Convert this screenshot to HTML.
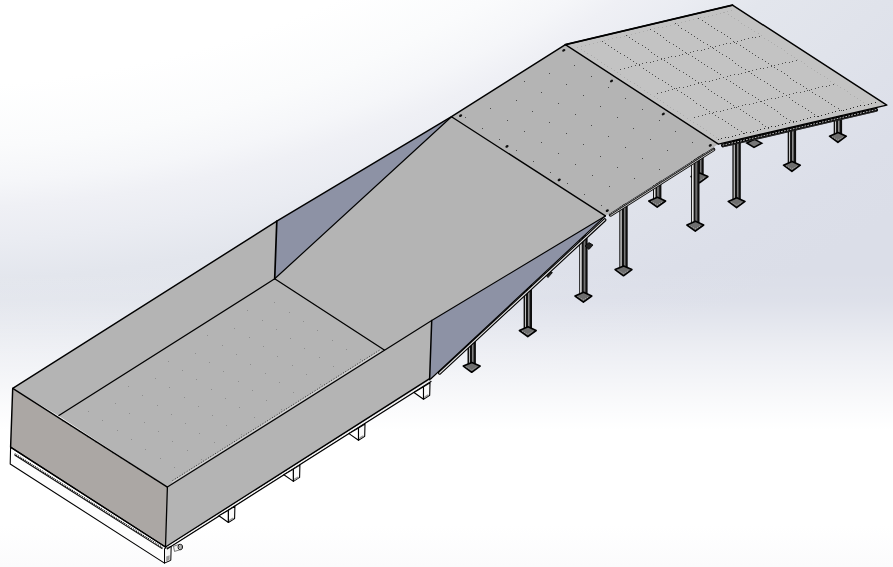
<!DOCTYPE html><html><head><meta charset="utf-8"><style>html,body{margin:0;padding:0;width:893px;height:567px;overflow:hidden;background:#fff}svg{display:block}</style></head><body><svg width="893" height="567" viewBox="0 0 893 567"><defs><radialGradient id="bgr" cx="-100" cy="-400" r="1380" gradientUnits="userSpaceOnUse" gradientTransform="translate(-100,-400) scale(1,0.6408) translate(100,400)"><stop offset="0.552" stop-color="#ffffff"/><stop offset="0.621" stop-color="#fafbfc"/><stop offset="0.662" stop-color="#f5f6f9"/><stop offset="0.69" stop-color="#eff0f5"/><stop offset="0.728" stop-color="#eaecf2"/><stop offset="0.772" stop-color="#e3e6ed"/><stop offset="0.845" stop-color="#e0e3eb"/><stop offset="0.941" stop-color="#dcdfe9"/><stop offset="1.0" stop-color="#dbdee8"/></radialGradient><linearGradient id="bgb" x1="0" y1="270" x2="0" y2="430" gradientUnits="userSpaceOnUse"><stop offset="0.000" stop-color="#fff" stop-opacity="0"/><stop offset="0.188" stop-color="#fff" stop-opacity="0.08"/><stop offset="0.531" stop-color="#fff" stop-opacity="0.53"/><stop offset="0.844" stop-color="#fff" stop-opacity="0.86"/><stop offset="1.000" stop-color="#fff" stop-opacity="1.0"/></linearGradient><linearGradient id="legg" x1="0" y1="0" x2="1" y2="0"><stop offset="0" stop-color="#0c0c0c"/><stop offset="0.12" stop-color="#111"/><stop offset="0.16" stop-color="#e8e8e8"/><stop offset="0.28" stop-color="#9a9a9a"/><stop offset="0.34" stop-color="#111"/><stop offset="0.5" stop-color="#141414"/><stop offset="0.55" stop-color="#959595"/><stop offset="0.73" stop-color="#4a4a4a"/><stop offset="0.8" stop-color="#111"/><stop offset="1" stop-color="#0c0c0c"/></linearGradient></defs><rect width="893" height="567" fill="url(#bgr)"/><rect width="893" height="567" fill="url(#bgb)"/><defs><linearGradient id="bgl" x1="0" y1="525" x2="0" y2="567" gradientUnits="userSpaceOnUse"><stop offset="0" stop-color="#fbfbfc" stop-opacity="0"/><stop offset="1" stop-color="#fbfbfc" stop-opacity="1"/></linearGradient></defs><rect y="525" width="893" height="42" fill="url(#bgl)"/><rect x="467.5" y="335.0" width="8.4" height="31.3" fill="url(#legg)"/><polygon points="463.3,366.1 471.9,362.4 480.1,366.1 471.7,372.3" fill="#6e6e6e" stroke="#000" stroke-width="1.6" stroke-linejoin="round"/><polyline points="465.9,366.7 471.7,369.9 477.5,366.7" fill="none" stroke="#c8c8c8" stroke-width="0.8" stroke-dasharray="0.8 1.4"/><rect x="523.6" y="283.0" width="8.4" height="47.7" fill="url(#legg)"/><polygon points="519.4,330.5 528.0,326.8 536.2,330.5 527.8,336.7" fill="#6e6e6e" stroke="#000" stroke-width="1.6" stroke-linejoin="round"/><polyline points="522.0,331.1 527.8,334.3 533.6,331.1" fill="none" stroke="#c8c8c8" stroke-width="0.8" stroke-dasharray="0.8 1.4"/><rect x="579.2" y="235.0" width="8.4" height="61.2" fill="url(#legg)"/><polygon points="575.0,296.0 583.6,292.3 591.8,296.0 583.4,302.2" fill="#6e6e6e" stroke="#000" stroke-width="1.6" stroke-linejoin="round"/><polyline points="577.6,296.6 583.4,299.8 589.2,296.6" fill="none" stroke="#c8c8c8" stroke-width="0.8" stroke-dasharray="0.8 1.4"/><rect x="619.3" y="203.0" width="8.4" height="66.8" fill="url(#legg)"/><polygon points="615.1,269.6 623.7,265.9 631.9,269.6 623.5,275.8" fill="#6e6e6e" stroke="#000" stroke-width="1.6" stroke-linejoin="round"/><polyline points="617.7,270.2 623.5,273.4 629.3,270.2" fill="none" stroke="#c8c8c8" stroke-width="0.8" stroke-dasharray="0.8 1.4"/><rect x="653.0" y="180.0" width="8.4" height="21.2" fill="url(#legg)"/><polygon points="648.8,201.0 657.4,197.3 665.6,201.0 657.2,207.2" fill="#6e6e6e" stroke="#000" stroke-width="1.6" stroke-linejoin="round"/><polyline points="651.4,201.6 657.2,204.8 663.0,201.6" fill="none" stroke="#c8c8c8" stroke-width="0.8" stroke-dasharray="0.8 1.4"/><rect x="695.3" y="150.0" width="8.4" height="26.8" fill="url(#legg)"/><polygon points="691.1,176.6 699.7,172.9 707.9,176.6 699.5,182.8" fill="#6e6e6e" stroke="#000" stroke-width="1.6" stroke-linejoin="round"/><polyline points="693.7,177.2 699.5,180.4 705.3,177.2" fill="none" stroke="#c8c8c8" stroke-width="0.8" stroke-dasharray="0.8 1.4"/><rect x="691.1" y="150.0" width="8.4" height="75.2" fill="url(#legg)"/><polygon points="686.9,225.0 695.5,221.3 703.7,225.0 695.3,231.2" fill="#6e6e6e" stroke="#000" stroke-width="1.6" stroke-linejoin="round"/><polyline points="689.5,225.6 695.3,228.8 701.1,225.6" fill="none" stroke="#c8c8c8" stroke-width="0.8" stroke-dasharray="0.8 1.4"/><rect x="732.4" y="138.0" width="8.4" height="63.6" fill="url(#legg)"/><polygon points="728.2,201.4 736.8,197.7 745.0,201.4 736.6,207.6" fill="#6e6e6e" stroke="#000" stroke-width="1.6" stroke-linejoin="round"/><polyline points="730.8,202.0 736.6,205.2 742.4,202.0" fill="none" stroke="#c8c8c8" stroke-width="0.8" stroke-dasharray="0.8 1.4"/><rect x="787.7" y="125.0" width="8.4" height="40.4" fill="url(#legg)"/><polygon points="783.5,165.2 792.1,161.5 800.3,165.2 791.9,171.4" fill="#6e6e6e" stroke="#000" stroke-width="1.6" stroke-linejoin="round"/><polyline points="786.1,165.8 791.9,169.0 797.7,165.8" fill="none" stroke="#c8c8c8" stroke-width="0.8" stroke-dasharray="0.8 1.4"/><rect x="833.7" y="112.0" width="8.4" height="24.4" fill="url(#legg)"/><polygon points="829.5,136.2 838.1,132.5 846.3,136.2 837.9,142.4" fill="#6e6e6e" stroke="#000" stroke-width="1.6" stroke-linejoin="round"/><polyline points="832.1,136.8 837.9,140.0 843.7,136.8" fill="none" stroke="#c8c8c8" stroke-width="0.8" stroke-dasharray="0.8 1.4"/><polygon points="746.8,143.0 754.5,139.4 761.8,143.2 754.0,147.5" fill="#777" stroke="#000" stroke-width="1.5"/><polygon points="544.7,273.5 549.0,270.8 552.4,272.6 548.0,277.6" fill="#222" stroke="#000" stroke-width="0.8"/><polygon points="585.0,246.0 589.0,242.6 593.0,245.0 589.0,249.4" fill="#222" stroke="#000" stroke-width="0.8"/><polygon points="12.7,388.4 167.4,487.1 165.5,547.0 10.6,447.2" fill="#aba7a4"/><polygon points="10.6,447.2 165.5,547.0 164.5,563.1 10.2,464.0" fill="#fdfdfd" stroke="#000" stroke-width="1.1" stroke-linejoin="round"/><line x1="14.6" y1="455.0" x2="162.5" y2="548.9" stroke="#111" stroke-width="1.1"/><line x1="14.6" y1="453.8" x2="162.5" y2="547.7" stroke="#111" stroke-width="1.5" stroke-dasharray="1 1"/><line x1="10.6" y1="447.2" x2="165.5" y2="547.0" stroke="#000" stroke-width="1.4"/><polygon points="164.5,548.5 171.2,546.3 170.8,560.3 164.5,563.1" fill="#f4f4f4" stroke="#000" stroke-width="1"/><polygon points="166.2,556.5 169.6,555.2 169.6,559.6 166.2,561.4" fill="#9a9a9a"/><polygon points="173.5,546.3 179.5,544.2 180.8,549.6 174.5,551.4" fill="#f0f0f0" stroke="#222" stroke-width="0.6"/><ellipse cx="180.3" cy="547" rx="2.3" ry="2.7" fill="#e8e8e8" stroke="#000" stroke-width="0.9"/><ellipse cx="180.5" cy="547" rx="0.9" ry="1.3" fill="none" stroke="#333" stroke-width="0.5"/><polygon points="167.4,487.1 431.7,320.6 429.6,380.0 165.5,547.0" fill="#b4b4b4"/><polygon points="12.7,388.4 276.8,221.2 274.7,278.8 58.5,415.8" fill="#b4b4b4"/><polygon points="58.5,415.8 274.7,278.8 384.7,350.2 167.4,487.1" fill="#b4b4b4"/><polygon points="274.7,278.8 451.5,116.7 605.4,215.9 431.7,320.6 384.7,350.2" fill="#b4b4b4"/><polygon points="276.8,221.2 451.5,116.7 274.7,278.8" fill="#8d92a5"/><polygon points="431.7,320.6 605.4,215.9 429.6,380.0" fill="#8d92a5"/><polygon points="451.5,116.7 565.4,44.6 718.4,144.1 605.4,215.9" fill="#b4b4b4"/><polygon points="565.4,44.6 732.5,5.1 886.8,105.1 718.4,144.1" fill="#c3c3c3"/><rect x="524" y="81" width="1" height="1" fill="#4a4a4a"/><rect x="549" y="73" width="1" height="1" fill="#4a4a4a"/><rect x="574" y="65" width="1" height="1" fill="#4a4a4a"/><rect x="465" y="117" width="1" height="1" fill="#4a4a4a"/><rect x="490" y="108" width="1" height="1" fill="#4a4a4a"/><rect x="516" y="100" width="1" height="1" fill="#4a4a4a"/><rect x="541" y="92" width="1" height="1" fill="#4a4a4a"/><rect x="566" y="84" width="1" height="1" fill="#4a4a4a"/><rect x="591" y="76" width="1" height="1" fill="#4a4a4a"/><rect x="482" y="128" width="1" height="1" fill="#4a4a4a"/><rect x="507" y="120" width="1" height="1" fill="#4a4a4a"/><rect x="532" y="111" width="1" height="1" fill="#4a4a4a"/><rect x="558" y="103" width="1" height="1" fill="#4a4a4a"/><rect x="583" y="95" width="1" height="1" fill="#4a4a4a"/><rect x="608" y="87" width="1" height="1" fill="#4a4a4a"/><rect x="499" y="139" width="1" height="1" fill="#4a4a4a"/><rect x="524" y="131" width="1" height="1" fill="#4a4a4a"/><rect x="549" y="122" width="1" height="1" fill="#4a4a4a"/><rect x="575" y="114" width="1" height="1" fill="#4a4a4a"/><rect x="600" y="106" width="1" height="1" fill="#4a4a4a"/><rect x="625" y="98" width="1" height="1" fill="#4a4a4a"/><rect x="516" y="150" width="1" height="1" fill="#4a4a4a"/><rect x="541" y="142" width="1" height="1" fill="#4a4a4a"/><rect x="566" y="133" width="1" height="1" fill="#4a4a4a"/><rect x="591" y="125" width="1" height="1" fill="#4a4a4a"/><rect x="617" y="117" width="1" height="1" fill="#4a4a4a"/><rect x="642" y="109" width="1" height="1" fill="#4a4a4a"/><rect x="533" y="161" width="1" height="1" fill="#4a4a4a"/><rect x="558" y="153" width="1" height="1" fill="#4a4a4a"/><rect x="583" y="144" width="1" height="1" fill="#4a4a4a"/><rect x="608" y="136" width="1" height="1" fill="#4a4a4a"/><rect x="633" y="128" width="1" height="1" fill="#4a4a4a"/><rect x="659" y="120" width="1" height="1" fill="#4a4a4a"/><rect x="550" y="172" width="1" height="1" fill="#4a4a4a"/><rect x="575" y="164" width="1" height="1" fill="#4a4a4a"/><rect x="600" y="156" width="1" height="1" fill="#4a4a4a"/><rect x="625" y="147" width="1" height="1" fill="#4a4a4a"/><rect x="650" y="139" width="1" height="1" fill="#4a4a4a"/><rect x="675" y="131" width="1" height="1" fill="#4a4a4a"/><rect x="567" y="183" width="1" height="1" fill="#4a4a4a"/><rect x="592" y="175" width="1" height="1" fill="#4a4a4a"/><rect x="617" y="167" width="1" height="1" fill="#4a4a4a"/><rect x="642" y="158" width="1" height="1" fill="#4a4a4a"/><rect x="667" y="150" width="1" height="1" fill="#4a4a4a"/><rect x="692" y="142" width="1" height="1" fill="#4a4a4a"/><rect x="584" y="194" width="1" height="1" fill="#4a4a4a"/><rect x="609" y="186" width="1" height="1" fill="#4a4a4a"/><rect x="634" y="178" width="1" height="1" fill="#4a4a4a"/><rect x="659" y="169" width="1" height="1" fill="#4a4a4a"/><rect x="601" y="205" width="1" height="1" fill="#4a4a4a"/><rect x="88" y="411" width="1" height="1" fill="#8e8e8e"/><rect x="102" y="420" width="1" height="1" fill="#8e8e8e"/><rect x="117" y="430" width="1" height="1" fill="#8e8e8e"/><rect x="131" y="439" width="1" height="1" fill="#8e8e8e"/><rect x="145" y="449" width="1" height="1" fill="#8e8e8e"/><rect x="160" y="458" width="1" height="1" fill="#8e8e8e"/><rect x="174" y="467" width="1" height="1" fill="#8e8e8e"/><rect x="115" y="403" width="1" height="1" fill="#8e8e8e"/><rect x="129" y="413" width="1" height="1" fill="#8e8e8e"/><rect x="144" y="422" width="1" height="1" fill="#8e8e8e"/><rect x="158" y="431" width="1" height="1" fill="#8e8e8e"/><rect x="172" y="441" width="1" height="1" fill="#8e8e8e"/><rect x="187" y="450" width="1" height="1" fill="#8e8e8e"/><rect x="201" y="459" width="1" height="1" fill="#8e8e8e"/><rect x="128" y="386" width="1" height="1" fill="#8e8e8e"/><rect x="142" y="395" width="1" height="1" fill="#8e8e8e"/><rect x="157" y="405" width="1" height="1" fill="#8e8e8e"/><rect x="171" y="414" width="1" height="1" fill="#8e8e8e"/><rect x="185" y="423" width="1" height="1" fill="#8e8e8e"/><rect x="199" y="433" width="1" height="1" fill="#8e8e8e"/><rect x="214" y="442" width="1" height="1" fill="#8e8e8e"/><rect x="155" y="378" width="1" height="1" fill="#8e8e8e"/><rect x="169" y="387" width="1" height="1" fill="#8e8e8e"/><rect x="184" y="397" width="1" height="1" fill="#8e8e8e"/><rect x="198" y="406" width="1" height="1" fill="#8e8e8e"/><rect x="212" y="415" width="1" height="1" fill="#8e8e8e"/><rect x="226" y="425" width="1" height="1" fill="#8e8e8e"/><rect x="241" y="434" width="1" height="1" fill="#8e8e8e"/><rect x="168" y="361" width="1" height="1" fill="#8e8e8e"/><rect x="182" y="370" width="1" height="1" fill="#8e8e8e"/><rect x="196" y="379" width="1" height="1" fill="#8e8e8e"/><rect x="211" y="389" width="1" height="1" fill="#8e8e8e"/><rect x="225" y="398" width="1" height="1" fill="#8e8e8e"/><rect x="239" y="407" width="1" height="1" fill="#8e8e8e"/><rect x="254" y="417" width="1" height="1" fill="#8e8e8e"/><rect x="195" y="353" width="1" height="1" fill="#8e8e8e"/><rect x="209" y="362" width="1" height="1" fill="#8e8e8e"/><rect x="223" y="371" width="1" height="1" fill="#8e8e8e"/><rect x="238" y="381" width="1" height="1" fill="#8e8e8e"/><rect x="252" y="390" width="1" height="1" fill="#8e8e8e"/><rect x="266" y="400" width="1" height="1" fill="#8e8e8e"/><rect x="281" y="409" width="1" height="1" fill="#8e8e8e"/><rect x="207" y="335" width="1" height="1" fill="#8e8e8e"/><rect x="222" y="345" width="1" height="1" fill="#8e8e8e"/><rect x="236" y="354" width="1" height="1" fill="#8e8e8e"/><rect x="250" y="364" width="1" height="1" fill="#8e8e8e"/><rect x="265" y="373" width="1" height="1" fill="#8e8e8e"/><rect x="279" y="382" width="1" height="1" fill="#8e8e8e"/><rect x="293" y="392" width="1" height="1" fill="#8e8e8e"/><rect x="234" y="328" width="1" height="1" fill="#8e8e8e"/><rect x="249" y="337" width="1" height="1" fill="#8e8e8e"/><rect x="263" y="346" width="1" height="1" fill="#8e8e8e"/><rect x="277" y="356" width="1" height="1" fill="#8e8e8e"/><rect x="292" y="365" width="1" height="1" fill="#8e8e8e"/><rect x="306" y="374" width="1" height="1" fill="#8e8e8e"/><rect x="320" y="384" width="1" height="1" fill="#8e8e8e"/><rect x="247" y="310" width="1" height="1" fill="#8e8e8e"/><rect x="262" y="320" width="1" height="1" fill="#8e8e8e"/><rect x="276" y="329" width="1" height="1" fill="#8e8e8e"/><rect x="290" y="338" width="1" height="1" fill="#8e8e8e"/><rect x="304" y="348" width="1" height="1" fill="#8e8e8e"/><rect x="319" y="357" width="1" height="1" fill="#8e8e8e"/><rect x="333" y="366" width="1" height="1" fill="#8e8e8e"/><rect x="274" y="302" width="1" height="1" fill="#8e8e8e"/><rect x="289" y="312" width="1" height="1" fill="#8e8e8e"/><rect x="303" y="321" width="1" height="1" fill="#8e8e8e"/><rect x="317" y="330" width="1" height="1" fill="#8e8e8e"/><rect x="332" y="340" width="1" height="1" fill="#8e8e8e"/><rect x="346" y="349" width="1" height="1" fill="#8e8e8e"/><rect x="360" y="359" width="1" height="1" fill="#8e8e8e"/><line x1="172" y1="482.4" x2="381" y2="350.7" stroke="#dcdcdc" stroke-width="0.9"/><line x1="172.5" y1="480.6" x2="380" y2="349.8" stroke="#2a2a2a" stroke-width="1" stroke-dasharray="0.9 1.9"/><line x1="62" y1="420.5" x2="160" y2="483" stroke="#333" stroke-width="0.9" stroke-dasharray="0.9 9"/><g fill="#4e4e4e"><rect x="602" y="41" width="1" height="1"/><rect x="605" y="43" width="1" height="1"/><rect x="608" y="45" width="1" height="1"/><rect x="611" y="47" width="1" height="1"/><rect x="614" y="49" width="1" height="1"/><rect x="617" y="51" width="1" height="1"/><rect x="620" y="53" width="1" height="1"/><rect x="624" y="55" width="1" height="1"/><rect x="627" y="57" width="1" height="1"/><rect x="630" y="59" width="1" height="1"/><rect x="633" y="61" width="1" height="1"/><rect x="636" y="63" width="1" height="1"/><rect x="639" y="65" width="1" height="1"/><rect x="643" y="68" width="1" height="1"/><rect x="646" y="70" width="1" height="1"/><rect x="649" y="72" width="1" height="1"/><rect x="652" y="74" width="1" height="1"/><rect x="655" y="76" width="1" height="1"/><rect x="658" y="78" width="1" height="1"/><rect x="662" y="80" width="1" height="1"/><rect x="665" y="82" width="1" height="1"/><rect x="668" y="84" width="1" height="1"/><rect x="671" y="86" width="1" height="1"/><rect x="674" y="88" width="1" height="1"/><rect x="677" y="90" width="1" height="1"/><rect x="681" y="92" width="1" height="1"/><rect x="684" y="94" width="1" height="1"/><rect x="687" y="96" width="1" height="1"/><rect x="690" y="98" width="1" height="1"/><rect x="693" y="100" width="1" height="1"/><rect x="696" y="103" width="1" height="1"/><rect x="700" y="105" width="1" height="1"/><rect x="703" y="107" width="1" height="1"/><rect x="706" y="109" width="1" height="1"/><rect x="709" y="111" width="1" height="1"/><rect x="712" y="113" width="1" height="1"/><rect x="715" y="115" width="1" height="1"/><rect x="718" y="117" width="1" height="1"/><rect x="722" y="119" width="1" height="1"/><rect x="725" y="121" width="1" height="1"/><rect x="728" y="123" width="1" height="1"/><rect x="731" y="125" width="1" height="1"/><rect x="734" y="127" width="1" height="1"/><rect x="737" y="129" width="1" height="1"/><rect x="741" y="131" width="1" height="1"/><rect x="744" y="133" width="1" height="1"/><rect x="626" y="35" width="1" height="1"/><rect x="629" y="37" width="1" height="1"/><rect x="632" y="39" width="1" height="1"/><rect x="635" y="41" width="1" height="1"/><rect x="638" y="43" width="1" height="1"/><rect x="642" y="45" width="1" height="1"/><rect x="645" y="47" width="1" height="1"/><rect x="648" y="49" width="1" height="1"/><rect x="651" y="52" width="1" height="1"/><rect x="654" y="54" width="1" height="1"/><rect x="657" y="56" width="1" height="1"/><rect x="661" y="58" width="1" height="1"/><rect x="664" y="60" width="1" height="1"/><rect x="667" y="62" width="1" height="1"/><rect x="670" y="64" width="1" height="1"/><rect x="673" y="66" width="1" height="1"/><rect x="676" y="68" width="1" height="1"/><rect x="679" y="70" width="1" height="1"/><rect x="683" y="72" width="1" height="1"/><rect x="686" y="74" width="1" height="1"/><rect x="689" y="76" width="1" height="1"/><rect x="692" y="78" width="1" height="1"/><rect x="695" y="80" width="1" height="1"/><rect x="698" y="82" width="1" height="1"/><rect x="702" y="84" width="1" height="1"/><rect x="705" y="86" width="1" height="1"/><rect x="708" y="89" width="1" height="1"/><rect x="711" y="91" width="1" height="1"/><rect x="714" y="93" width="1" height="1"/><rect x="717" y="95" width="1" height="1"/><rect x="721" y="97" width="1" height="1"/><rect x="724" y="99" width="1" height="1"/><rect x="727" y="101" width="1" height="1"/><rect x="730" y="103" width="1" height="1"/><rect x="733" y="105" width="1" height="1"/><rect x="736" y="107" width="1" height="1"/><rect x="740" y="109" width="1" height="1"/><rect x="743" y="111" width="1" height="1"/><rect x="746" y="113" width="1" height="1"/><rect x="749" y="115" width="1" height="1"/><rect x="752" y="117" width="1" height="1"/><rect x="755" y="119" width="1" height="1"/><rect x="759" y="121" width="1" height="1"/><rect x="762" y="124" width="1" height="1"/><rect x="765" y="126" width="1" height="1"/><rect x="768" y="128" width="1" height="1"/><rect x="650" y="29" width="1" height="1"/><rect x="654" y="31" width="1" height="1"/><rect x="657" y="33" width="1" height="1"/><rect x="660" y="35" width="1" height="1"/><rect x="663" y="37" width="1" height="1"/><rect x="666" y="40" width="1" height="1"/><rect x="669" y="42" width="1" height="1"/><rect x="673" y="44" width="1" height="1"/><rect x="676" y="46" width="1" height="1"/><rect x="679" y="48" width="1" height="1"/><rect x="682" y="50" width="1" height="1"/><rect x="685" y="52" width="1" height="1"/><rect x="688" y="54" width="1" height="1"/><rect x="692" y="56" width="1" height="1"/><rect x="695" y="58" width="1" height="1"/><rect x="698" y="60" width="1" height="1"/><rect x="701" y="62" width="1" height="1"/><rect x="704" y="64" width="1" height="1"/><rect x="707" y="66" width="1" height="1"/><rect x="711" y="68" width="1" height="1"/><rect x="714" y="70" width="1" height="1"/><rect x="717" y="72" width="1" height="1"/><rect x="720" y="74" width="1" height="1"/><rect x="723" y="77" width="1" height="1"/><rect x="726" y="79" width="1" height="1"/><rect x="730" y="81" width="1" height="1"/><rect x="733" y="83" width="1" height="1"/><rect x="736" y="85" width="1" height="1"/><rect x="739" y="87" width="1" height="1"/><rect x="742" y="89" width="1" height="1"/><rect x="745" y="91" width="1" height="1"/><rect x="748" y="93" width="1" height="1"/><rect x="752" y="95" width="1" height="1"/><rect x="755" y="97" width="1" height="1"/><rect x="758" y="99" width="1" height="1"/><rect x="761" y="101" width="1" height="1"/><rect x="764" y="103" width="1" height="1"/><rect x="767" y="105" width="1" height="1"/><rect x="771" y="107" width="1" height="1"/><rect x="774" y="109" width="1" height="1"/><rect x="777" y="111" width="1" height="1"/><rect x="780" y="114" width="1" height="1"/><rect x="783" y="116" width="1" height="1"/><rect x="786" y="118" width="1" height="1"/><rect x="790" y="120" width="1" height="1"/><rect x="793" y="122" width="1" height="1"/><rect x="675" y="23" width="1" height="1"/><rect x="678" y="25" width="1" height="1"/><rect x="681" y="28" width="1" height="1"/><rect x="685" y="30" width="1" height="1"/><rect x="688" y="32" width="1" height="1"/><rect x="691" y="34" width="1" height="1"/><rect x="694" y="36" width="1" height="1"/><rect x="697" y="38" width="1" height="1"/><rect x="700" y="40" width="1" height="1"/><rect x="703" y="42" width="1" height="1"/><rect x="707" y="44" width="1" height="1"/><rect x="710" y="46" width="1" height="1"/><rect x="713" y="48" width="1" height="1"/><rect x="716" y="50" width="1" height="1"/><rect x="719" y="52" width="1" height="1"/><rect x="722" y="54" width="1" height="1"/><rect x="726" y="56" width="1" height="1"/><rect x="729" y="58" width="1" height="1"/><rect x="732" y="60" width="1" height="1"/><rect x="735" y="63" width="1" height="1"/><rect x="738" y="65" width="1" height="1"/><rect x="741" y="67" width="1" height="1"/><rect x="745" y="69" width="1" height="1"/><rect x="748" y="71" width="1" height="1"/><rect x="751" y="73" width="1" height="1"/><rect x="754" y="75" width="1" height="1"/><rect x="757" y="77" width="1" height="1"/><rect x="760" y="79" width="1" height="1"/><rect x="764" y="81" width="1" height="1"/><rect x="767" y="83" width="1" height="1"/><rect x="770" y="85" width="1" height="1"/><rect x="773" y="87" width="1" height="1"/><rect x="776" y="89" width="1" height="1"/><rect x="779" y="91" width="1" height="1"/><rect x="783" y="93" width="1" height="1"/><rect x="786" y="95" width="1" height="1"/><rect x="789" y="97" width="1" height="1"/><rect x="792" y="100" width="1" height="1"/><rect x="795" y="102" width="1" height="1"/><rect x="798" y="104" width="1" height="1"/><rect x="802" y="106" width="1" height="1"/><rect x="805" y="108" width="1" height="1"/><rect x="808" y="110" width="1" height="1"/><rect x="811" y="112" width="1" height="1"/><rect x="814" y="114" width="1" height="1"/><rect x="817" y="116" width="1" height="1"/><rect x="698" y="18" width="1" height="1"/><rect x="702" y="20" width="1" height="1"/><rect x="705" y="22" width="1" height="1"/><rect x="708" y="24" width="1" height="1"/><rect x="711" y="26" width="1" height="1"/><rect x="714" y="28" width="1" height="1"/><rect x="717" y="30" width="1" height="1"/><rect x="721" y="32" width="1" height="1"/><rect x="724" y="34" width="1" height="1"/><rect x="727" y="36" width="1" height="1"/><rect x="730" y="38" width="1" height="1"/><rect x="733" y="41" width="1" height="1"/><rect x="736" y="43" width="1" height="1"/><rect x="740" y="45" width="1" height="1"/><rect x="743" y="47" width="1" height="1"/><rect x="746" y="49" width="1" height="1"/><rect x="749" y="51" width="1" height="1"/><rect x="752" y="53" width="1" height="1"/><rect x="755" y="55" width="1" height="1"/><rect x="758" y="57" width="1" height="1"/><rect x="762" y="59" width="1" height="1"/><rect x="765" y="61" width="1" height="1"/><rect x="768" y="63" width="1" height="1"/><rect x="771" y="65" width="1" height="1"/><rect x="774" y="67" width="1" height="1"/><rect x="777" y="69" width="1" height="1"/><rect x="781" y="71" width="1" height="1"/><rect x="784" y="73" width="1" height="1"/><rect x="787" y="75" width="1" height="1"/><rect x="790" y="78" width="1" height="1"/><rect x="793" y="80" width="1" height="1"/><rect x="796" y="82" width="1" height="1"/><rect x="800" y="84" width="1" height="1"/><rect x="803" y="86" width="1" height="1"/><rect x="806" y="88" width="1" height="1"/><rect x="809" y="90" width="1" height="1"/><rect x="812" y="92" width="1" height="1"/><rect x="815" y="94" width="1" height="1"/><rect x="819" y="96" width="1" height="1"/><rect x="822" y="98" width="1" height="1"/><rect x="825" y="100" width="1" height="1"/><rect x="828" y="102" width="1" height="1"/><rect x="831" y="104" width="1" height="1"/><rect x="834" y="106" width="1" height="1"/><rect x="838" y="108" width="1" height="1"/><rect x="841" y="110" width="1" height="1"/><rect x="620" y="69" width="1" height="1"/><rect x="624" y="68" width="1" height="1"/><rect x="628" y="67" width="1" height="1"/><rect x="631" y="66" width="1" height="1"/><rect x="635" y="65" width="1" height="1"/><rect x="639" y="64" width="1" height="1"/><rect x="642" y="63" width="1" height="1"/><rect x="646" y="62" width="1" height="1"/><rect x="650" y="62" width="1" height="1"/><rect x="653" y="61" width="1" height="1"/><rect x="657" y="60" width="1" height="1"/><rect x="661" y="59" width="1" height="1"/><rect x="664" y="58" width="1" height="1"/><rect x="668" y="57" width="1" height="1"/><rect x="671" y="56" width="1" height="1"/><rect x="675" y="56" width="1" height="1"/><rect x="679" y="55" width="1" height="1"/><rect x="682" y="54" width="1" height="1"/><rect x="686" y="53" width="1" height="1"/><rect x="690" y="52" width="1" height="1"/><rect x="693" y="51" width="1" height="1"/><rect x="697" y="50" width="1" height="1"/><rect x="701" y="50" width="1" height="1"/><rect x="704" y="49" width="1" height="1"/><rect x="708" y="48" width="1" height="1"/><rect x="712" y="47" width="1" height="1"/><rect x="715" y="46" width="1" height="1"/><rect x="719" y="45" width="1" height="1"/><rect x="723" y="44" width="1" height="1"/><rect x="726" y="43" width="1" height="1"/><rect x="730" y="43" width="1" height="1"/><rect x="734" y="42" width="1" height="1"/><rect x="737" y="41" width="1" height="1"/><rect x="741" y="40" width="1" height="1"/><rect x="744" y="39" width="1" height="1"/><rect x="748" y="38" width="1" height="1"/><rect x="752" y="37" width="1" height="1"/><rect x="755" y="37" width="1" height="1"/><rect x="759" y="36" width="1" height="1"/><rect x="657" y="93" width="1" height="1"/><rect x="661" y="92" width="1" height="1"/><rect x="665" y="91" width="1" height="1"/><rect x="668" y="90" width="1" height="1"/><rect x="672" y="89" width="1" height="1"/><rect x="676" y="88" width="1" height="1"/><rect x="679" y="87" width="1" height="1"/><rect x="683" y="87" width="1" height="1"/><rect x="687" y="86" width="1" height="1"/><rect x="690" y="85" width="1" height="1"/><rect x="694" y="84" width="1" height="1"/><rect x="698" y="83" width="1" height="1"/><rect x="701" y="82" width="1" height="1"/><rect x="705" y="81" width="1" height="1"/><rect x="709" y="81" width="1" height="1"/><rect x="712" y="80" width="1" height="1"/><rect x="716" y="79" width="1" height="1"/><rect x="719" y="78" width="1" height="1"/><rect x="727" y="76" width="1" height="1"/><rect x="730" y="75" width="1" height="1"/><rect x="734" y="74" width="1" height="1"/><rect x="738" y="74" width="1" height="1"/><rect x="741" y="73" width="1" height="1"/><rect x="745" y="72" width="1" height="1"/><rect x="749" y="71" width="1" height="1"/><rect x="752" y="70" width="1" height="1"/><rect x="756" y="69" width="1" height="1"/><rect x="760" y="68" width="1" height="1"/><rect x="763" y="68" width="1" height="1"/><rect x="767" y="67" width="1" height="1"/><rect x="771" y="66" width="1" height="1"/><rect x="774" y="65" width="1" height="1"/><rect x="778" y="64" width="1" height="1"/><rect x="782" y="63" width="1" height="1"/><rect x="785" y="62" width="1" height="1"/><rect x="789" y="62" width="1" height="1"/><rect x="792" y="61" width="1" height="1"/><rect x="796" y="60" width="1" height="1"/><rect x="694" y="117" width="1" height="1"/><rect x="698" y="116" width="1" height="1"/><rect x="702" y="115" width="1" height="1"/><rect x="705" y="114" width="1" height="1"/><rect x="709" y="113" width="1" height="1"/><rect x="713" y="112" width="1" height="1"/><rect x="716" y="111" width="1" height="1"/><rect x="720" y="111" width="1" height="1"/><rect x="723" y="110" width="1" height="1"/><rect x="727" y="109" width="1" height="1"/><rect x="731" y="108" width="1" height="1"/><rect x="734" y="107" width="1" height="1"/><rect x="738" y="106" width="1" height="1"/><rect x="742" y="105" width="1" height="1"/><rect x="745" y="104" width="1" height="1"/><rect x="749" y="104" width="1" height="1"/><rect x="753" y="103" width="1" height="1"/><rect x="756" y="102" width="1" height="1"/><rect x="760" y="101" width="1" height="1"/><rect x="764" y="100" width="1" height="1"/><rect x="767" y="99" width="1" height="1"/><rect x="771" y="98" width="1" height="1"/><rect x="775" y="98" width="1" height="1"/><rect x="778" y="97" width="1" height="1"/><rect x="782" y="96" width="1" height="1"/><rect x="789" y="94" width="1" height="1"/><rect x="793" y="93" width="1" height="1"/><rect x="796" y="92" width="1" height="1"/><rect x="800" y="92" width="1" height="1"/><rect x="804" y="91" width="1" height="1"/><rect x="807" y="90" width="1" height="1"/><rect x="811" y="89" width="1" height="1"/><rect x="815" y="88" width="1" height="1"/><rect x="818" y="87" width="1" height="1"/><rect x="822" y="86" width="1" height="1"/><rect x="826" y="86" width="1" height="1"/><rect x="829" y="85" width="1" height="1"/><rect x="833" y="84" width="1" height="1"/></g><g fill="#adadad"><rect x="577" y="47" width="1" height="1"/><rect x="581" y="49" width="1" height="1"/><rect x="584" y="51" width="1" height="1"/><rect x="587" y="53" width="1" height="1"/><rect x="591" y="55" width="1" height="1"/><rect x="594" y="57" width="1" height="1"/><rect x="597" y="59" width="1" height="1"/><rect x="601" y="62" width="1" height="1"/><rect x="604" y="64" width="1" height="1"/><rect x="607" y="66" width="1" height="1"/><rect x="611" y="68" width="1" height="1"/><rect x="614" y="70" width="1" height="1"/><rect x="617" y="72" width="1" height="1"/><rect x="620" y="74" width="1" height="1"/><rect x="624" y="77" width="1" height="1"/><rect x="627" y="79" width="1" height="1"/><rect x="630" y="81" width="1" height="1"/><rect x="634" y="83" width="1" height="1"/><rect x="637" y="85" width="1" height="1"/><rect x="640" y="87" width="1" height="1"/><rect x="644" y="90" width="1" height="1"/><rect x="647" y="92" width="1" height="1"/><rect x="650" y="94" width="1" height="1"/><rect x="654" y="96" width="1" height="1"/><rect x="657" y="98" width="1" height="1"/><rect x="660" y="100" width="1" height="1"/><rect x="663" y="102" width="1" height="1"/><rect x="667" y="105" width="1" height="1"/><rect x="670" y="107" width="1" height="1"/><rect x="673" y="109" width="1" height="1"/><rect x="677" y="111" width="1" height="1"/><rect x="680" y="113" width="1" height="1"/><rect x="683" y="115" width="1" height="1"/><rect x="687" y="118" width="1" height="1"/><rect x="690" y="120" width="1" height="1"/><rect x="693" y="122" width="1" height="1"/><rect x="697" y="124" width="1" height="1"/><rect x="700" y="126" width="1" height="1"/><rect x="703" y="128" width="1" height="1"/><rect x="706" y="130" width="1" height="1"/><rect x="710" y="133" width="1" height="1"/><rect x="713" y="135" width="1" height="1"/><rect x="716" y="137" width="1" height="1"/><rect x="720" y="139" width="1" height="1"/><rect x="724" y="12" width="1" height="1"/><rect x="728" y="14" width="1" height="1"/><rect x="731" y="16" width="1" height="1"/><rect x="734" y="18" width="1" height="1"/><rect x="738" y="20" width="1" height="1"/><rect x="741" y="23" width="1" height="1"/><rect x="744" y="25" width="1" height="1"/><rect x="748" y="27" width="1" height="1"/><rect x="751" y="29" width="1" height="1"/><rect x="754" y="31" width="1" height="1"/><rect x="758" y="33" width="1" height="1"/><rect x="761" y="35" width="1" height="1"/><rect x="764" y="38" width="1" height="1"/><rect x="768" y="40" width="1" height="1"/><rect x="771" y="42" width="1" height="1"/><rect x="774" y="44" width="1" height="1"/><rect x="777" y="46" width="1" height="1"/><rect x="781" y="48" width="1" height="1"/><rect x="784" y="50" width="1" height="1"/><rect x="787" y="53" width="1" height="1"/><rect x="791" y="55" width="1" height="1"/><rect x="794" y="57" width="1" height="1"/><rect x="797" y="59" width="1" height="1"/><rect x="801" y="61" width="1" height="1"/><rect x="804" y="63" width="1" height="1"/><rect x="807" y="66" width="1" height="1"/><rect x="811" y="68" width="1" height="1"/><rect x="814" y="70" width="1" height="1"/><rect x="817" y="72" width="1" height="1"/><rect x="820" y="74" width="1" height="1"/><rect x="824" y="76" width="1" height="1"/><rect x="827" y="78" width="1" height="1"/><rect x="830" y="81" width="1" height="1"/><rect x="834" y="83" width="1" height="1"/><rect x="837" y="85" width="1" height="1"/><rect x="840" y="87" width="1" height="1"/><rect x="844" y="89" width="1" height="1"/><rect x="847" y="91" width="1" height="1"/><rect x="850" y="94" width="1" height="1"/><rect x="854" y="96" width="1" height="1"/><rect x="857" y="98" width="1" height="1"/><rect x="860" y="100" width="1" height="1"/><rect x="863" y="102" width="1" height="1"/><rect x="867" y="104" width="1" height="1"/><rect x="581" y="46" width="1" height="1"/><rect x="585" y="45" width="1" height="1"/><rect x="589" y="44" width="1" height="1"/><rect x="593" y="43" width="1" height="1"/><rect x="597" y="42" width="1" height="1"/><rect x="600" y="41" width="1" height="1"/><rect x="604" y="40" width="1" height="1"/><rect x="608" y="39" width="1" height="1"/><rect x="612" y="38" width="1" height="1"/><rect x="616" y="37" width="1" height="1"/><rect x="620" y="37" width="1" height="1"/><rect x="624" y="36" width="1" height="1"/><rect x="627" y="35" width="1" height="1"/><rect x="631" y="34" width="1" height="1"/><rect x="635" y="33" width="1" height="1"/><rect x="639" y="32" width="1" height="1"/><rect x="643" y="31" width="1" height="1"/><rect x="647" y="30" width="1" height="1"/><rect x="654" y="28" width="1" height="1"/><rect x="658" y="27" width="1" height="1"/><rect x="662" y="27" width="1" height="1"/><rect x="666" y="26" width="1" height="1"/><rect x="670" y="25" width="1" height="1"/><rect x="674" y="24" width="1" height="1"/><rect x="677" y="23" width="1" height="1"/><rect x="681" y="22" width="1" height="1"/><rect x="685" y="21" width="1" height="1"/><rect x="689" y="20" width="1" height="1"/><rect x="693" y="19" width="1" height="1"/><rect x="697" y="18" width="1" height="1"/><rect x="700" y="17" width="1" height="1"/><rect x="704" y="17" width="1" height="1"/><rect x="708" y="16" width="1" height="1"/><rect x="712" y="15" width="1" height="1"/><rect x="716" y="14" width="1" height="1"/><rect x="720" y="13" width="1" height="1"/><rect x="723" y="12" width="1" height="1"/><rect x="727" y="11" width="1" height="1"/><rect x="731" y="10" width="1" height="1"/></g><g fill="#2a2a2a"><rect x="718" y="139" width="1" height="1"/><rect x="721" y="138" width="1" height="1"/><rect x="725" y="137" width="1" height="1"/><rect x="728" y="137" width="1" height="1"/><rect x="732" y="136" width="1" height="1"/><rect x="735" y="135" width="1" height="1"/><rect x="739" y="134" width="1" height="1"/><rect x="743" y="133" width="1" height="1"/><rect x="746" y="132" width="1" height="1"/><rect x="750" y="132" width="1" height="1"/><rect x="753" y="131" width="1" height="1"/><rect x="757" y="130" width="1" height="1"/><rect x="760" y="129" width="1" height="1"/><rect x="764" y="128" width="1" height="1"/><rect x="768" y="127" width="1" height="1"/><rect x="771" y="126" width="1" height="1"/><rect x="775" y="126" width="1" height="1"/><rect x="778" y="125" width="1" height="1"/><rect x="782" y="124" width="1" height="1"/><rect x="785" y="123" width="1" height="1"/><rect x="789" y="122" width="1" height="1"/><rect x="793" y="121" width="1" height="1"/><rect x="796" y="121" width="1" height="1"/><rect x="800" y="120" width="1" height="1"/><rect x="803" y="119" width="1" height="1"/><rect x="807" y="118" width="1" height="1"/><rect x="810" y="117" width="1" height="1"/><rect x="814" y="116" width="1" height="1"/><rect x="818" y="116" width="1" height="1"/><rect x="821" y="115" width="1" height="1"/><rect x="825" y="114" width="1" height="1"/><rect x="828" y="113" width="1" height="1"/><rect x="832" y="112" width="1" height="1"/><rect x="835" y="111" width="1" height="1"/><rect x="839" y="110" width="1" height="1"/><rect x="843" y="110" width="1" height="1"/><rect x="846" y="109" width="1" height="1"/><rect x="850" y="108" width="1" height="1"/><rect x="853" y="107" width="1" height="1"/><rect x="857" y="106" width="1" height="1"/><rect x="860" y="105" width="1" height="1"/><rect x="864" y="105" width="1" height="1"/><rect x="868" y="104" width="1" height="1"/><rect x="871" y="103" width="1" height="1"/><rect x="875" y="102" width="1" height="1"/></g><polyline points="10.6,447.2 12.7,388.4 276.8,221.2 451.5,116.7 565.4,44.6 732.5,5.1 886.8,105.1 718.4,144.1" fill="none" stroke="#000" stroke-width="1.45" stroke-linejoin="round"/><line x1="565.4" y1="44.6" x2="732.5" y2="5.1" stroke="#000" stroke-width="1.8" stroke-linecap="round" /><line x1="12.7" y1="388.4" x2="167.4" y2="487.1" stroke="#000" stroke-width="1.4" stroke-linecap="round" /><polyline points="167.4,487.1 431.7,320.6 605.4,215.9" fill="none" stroke="#000" stroke-width="1.15" stroke-linejoin="round"/><line x1="167.4" y1="487.1" x2="165.5" y2="547.0" stroke="#000" stroke-width="1.3" stroke-linecap="round" /><line x1="276.8" y1="221.2" x2="274.7" y2="278.8" stroke="#000" stroke-width="1.7" stroke-linecap="round" /><line x1="431.7" y1="320.6" x2="429.6" y2="380.0" stroke="#000" stroke-width="1.5" stroke-linecap="round" /><polyline points="58.5,415.8 274.7,278.8 384.7,350.2" fill="none" stroke="#000" stroke-width="1.3" stroke-linejoin="round"/><line x1="274.7" y1="278.8" x2="451.5" y2="116.7" stroke="#000" stroke-width="1.2" stroke-linecap="round" /><line x1="451.5" y1="116.7" x2="605.4" y2="215.9" stroke="#000" stroke-width="1.3" stroke-linecap="round" /><line x1="565.4" y1="44.6" x2="718.4" y2="144.1" stroke="#000" stroke-width="1.3" stroke-linecap="round" /><line x1="429.6" y1="380.0" x2="605.4" y2="215.9" stroke="#000" stroke-width="1.1" stroke-linecap="round" /><line x1="165.5" y1="547.0" x2="429.6" y2="378.6" stroke="#000" stroke-width="1.4" stroke-linecap="round" /><line x1="167.4" y1="548.8" x2="431.0" y2="381.5" stroke="#000" stroke-width="1.3" stroke-linecap="round" /><line x1="166.5" y1="547.9" x2="430.3" y2="380.1" stroke="#e8e8e8" stroke-width="0.6" stroke-linecap="round" /><polygon points="218.9,515.8 228.4,522.5 228.4,510.2" fill="#fff" stroke="#000" stroke-width="1.1" stroke-linejoin="round"/><polygon points="228.4,510.2 234.9,506.2 234.6,518.5 228.4,522.5" fill="#fafafa" stroke="#000" stroke-width="1.1" stroke-linejoin="round"/><polygon points="229.2,519.7 232.9,517.5 233.9,518.8 229.2,521.5" fill="#999"/><polygon points="283.9,474.7 293.4,481.4 293.4,469.1" fill="#fff" stroke="#000" stroke-width="1.1" stroke-linejoin="round"/><polygon points="293.4,469.1 299.9,465.1 299.6,477.4 293.4,481.4" fill="#fafafa" stroke="#000" stroke-width="1.1" stroke-linejoin="round"/><polygon points="294.2,478.6 297.9,476.4 298.9,477.7 294.2,480.4" fill="#999"/><polygon points="349.0,433.6 358.5,440.3 358.5,428.0" fill="#fff" stroke="#000" stroke-width="1.1" stroke-linejoin="round"/><polygon points="358.5,428.0 365.0,424.0 364.7,436.3 358.5,440.3" fill="#fafafa" stroke="#000" stroke-width="1.1" stroke-linejoin="round"/><polygon points="359.3,437.5 363.0,435.3 364.0,436.6 359.3,439.3" fill="#999"/><polygon points="414.0,392.5 423.5,399.2 423.5,386.9" fill="#fff" stroke="#000" stroke-width="1.1" stroke-linejoin="round"/><polygon points="423.5,386.9 430.0,382.9 429.7,395.2 423.5,399.2" fill="#fafafa" stroke="#000" stroke-width="1.1" stroke-linejoin="round"/><polygon points="424.3,396.4 428.0,394.2 429.0,395.5 424.3,398.2" fill="#999"/><line x1="439.7" y1="373.0" x2="604.7" y2="219.9" stroke="#000" stroke-width="3.4" stroke-linecap="round" /><line x1="439.7" y1="373.0" x2="604.7" y2="219.9" stroke="#dcdcdc" stroke-width="1.2" stroke-linecap="round" /><line x1="610.5" y1="214.9" x2="713.5" y2="149.5" stroke="#111" stroke-width="3.6" stroke-linecap="round" /><line x1="610.8" y1="215.4" x2="713.8" y2="150.0" stroke="#eeeeee" stroke-width="0.8" stroke-linecap="round" /><line x1="610.0" y1="214.1" x2="713.0" y2="148.7" stroke="#8a8a8a" stroke-width="1.0" stroke-linecap="round" stroke-dasharray="1 1.2"/><line x1="723.0" y1="145.4" x2="876.0" y2="109.9" stroke="#000" stroke-width="4.0" stroke-linecap="round" /><line x1="723.0" y1="145.1" x2="876.0" y2="109.6" stroke="#bdbdbd" stroke-width="1.0" stroke-linecap="round" stroke-dasharray="1 2"/><line x1="723.3" y1="146.7" x2="876.3" y2="111.2" stroke="#555" stroke-width="0.5" stroke-linecap="round" /><ellipse cx="460.6" cy="115.6" rx="1.7" ry="1.2" fill="#111" transform="rotate(-30 460.6 115.6)"/><ellipse cx="507.0" cy="146.4" rx="1.7" ry="1.2" fill="#111" transform="rotate(-30 507.0 146.4)"/><ellipse cx="559.2" cy="179.9" rx="1.7" ry="1.2" fill="#111" transform="rotate(-30 559.2 179.9)"/><ellipse cx="607.3" cy="210.6" rx="1.7" ry="1.2" fill="#111" transform="rotate(-30 607.3 210.6)"/><ellipse cx="563.8" cy="50.3" rx="1.7" ry="1.2" fill="#111" transform="rotate(-30 563.8 50.3)"/><ellipse cx="611.5" cy="81.0" rx="1.7" ry="1.2" fill="#111" transform="rotate(-30 611.5 81.0)"/><ellipse cx="663.3" cy="114.0" rx="1.7" ry="1.2" fill="#111" transform="rotate(-30 663.3 114.0)"/><ellipse cx="710.3" cy="145.4" rx="1.7" ry="1.2" fill="#111" transform="rotate(-30 710.3 145.4)"/></svg></body></html>
